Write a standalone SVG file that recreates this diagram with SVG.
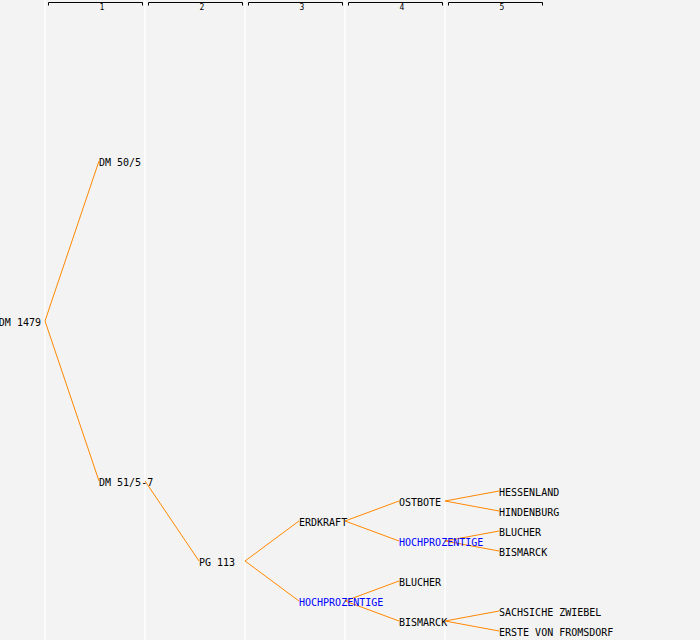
<svg xmlns="http://www.w3.org/2000/svg" width="700" height="640" viewBox="0 0 700 640">
<style>
.bg{fill:#f3f3f3}
.col{stroke:#ffffff;stroke-width:1.5}
.br{fill:none;stroke:#000;stroke-width:1}
.hd{font-family:"DejaVu Sans Mono","Liberation Mono",monospace;font-size:8px;fill:#000;text-anchor:middle}
.t{font-family:"DejaVu Sans Mono","Liberation Mono",monospace;font-size:10px;fill:#000}
.b{fill:#0000ff}
.e{fill:none;stroke:#ff8800;stroke-width:1}
</style>
<rect class="bg" x="0" y="0" width="700" height="640"/>
<g id="columns">
<line class="col" x1="45" y1="0" x2="45" y2="640"/>
<line class="col" x1="145" y1="0" x2="145" y2="640"/>
<line class="col" x1="245" y1="0" x2="245" y2="640"/>
<line class="col" x1="345" y1="0" x2="345" y2="640"/>
<line class="col" x1="445" y1="0" x2="445" y2="640"/>
</g>
<g id="header">
<path class="br" d="M48.5,5.5V2.5H142.5V5.5"/>
<path class="br" d="M148.5,5.5V2.5H242.5V5.5"/>
<path class="br" d="M248.5,5.5V2.5H342.5V5.5"/>
<path class="br" d="M348.5,5.5V2.5H442.5V5.5"/>
<path class="br" d="M448.5,5.5V2.5H542.5V5.5"/>
<text class="hd" x="102" y="10">1</text>
<text class="hd" x="202" y="10">2</text>
<text class="hd" x="302" y="10">3</text>
<text class="hd" x="402" y="10">4</text>
<text class="hd" x="502" y="10">5</text>
</g>
<g id="connectors">
<path class="e" d="M45,321L99,161"/>
<path class="e" d="M45,321L99,481"/>
<path class="e" d="M145,481L199,561"/>
<path class="e" d="M245,561L299,521"/>
<path class="e" d="M245,561L299,601"/>
<path class="e" d="M345,521L399,501"/>
<path class="e" d="M345,521L399,541"/>
<path class="e" d="M345,601L399,581"/>
<path class="e" d="M345,601L399,621"/>
<path class="e" d="M445,501L499,491"/>
<path class="e" d="M445,501L499,511"/>
<path class="e" d="M445,541L499,531"/>
<path class="e" d="M445,541L499,551"/>
<path class="e" d="M445,621L499,611"/>
<path class="e" d="M445,621L499,631"/>
</g>
<g id="n-dm1479"><text class="t" x="41" y="326" text-anchor="end">DM 1479</text></g>
<g id="n-dm505"><text class="t" x="99" y="166">DM 50/5</text></g>
<g id="n-dm515"><text class="t" x="99" y="486">DM 51/5-7</text></g>
<g id="n-pg113"><text class="t" x="199" y="566">PG 113</text></g>
<g id="n-erdkraft"><text class="t" x="299" y="526">ERDKRAFT</text></g>
<g id="n-hoch3"><text class="t b" x="299" y="606">HOCHPROZENTIGE</text></g>
<g id="n-ostbote"><text class="t" x="399" y="506">OSTBOTE</text></g>
<g id="n-hoch4"><text class="t b" x="399" y="546">HOCHPROZENTIGE</text></g>
<g id="n-blucher4"><text class="t" x="399" y="586">BLUCHER</text></g>
<g id="n-bismarck4"><text class="t" x="399" y="626">BISMARCK</text></g>
<g id="n-hessenland"><text class="t" x="499" y="496">HESSENLAND</text></g>
<g id="n-hindenburg"><text class="t" x="499" y="516">HINDENBURG</text></g>
<g id="n-blucher5"><text class="t" x="499" y="536">BLUCHER</text></g>
<g id="n-bismarck5"><text class="t" x="499" y="556">BISMARCK</text></g>
<g id="n-sachsiche"><text class="t" x="499" y="616">SACHSICHE ZWIEBEL</text></g>
<g id="n-erste"><text class="t" x="499" y="636">ERSTE VON FROMSDORF</text></g>
</svg>
